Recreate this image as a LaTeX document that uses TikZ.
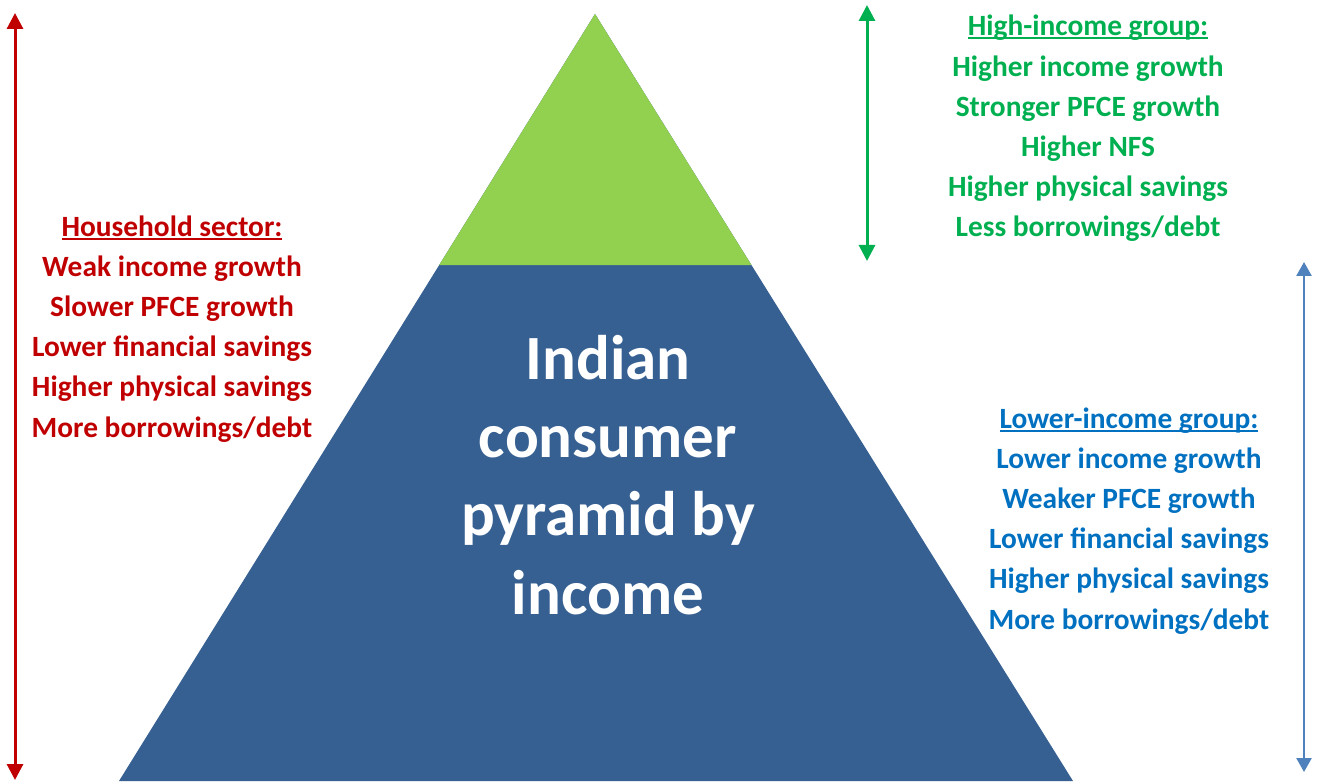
\documentclass[tikz,border=0pt]{standalone}
\usepackage{fontspec}
\setmainfont{Carlito}
\usepackage{xcolor}
\usepackage{tikz}
\usetikzlibrary{arrows.meta,calc,positioning}

\definecolor{pyrblue}{HTML}{376092}
\definecolor{pyrgreen}{HTML}{92D050}
\definecolor{hhred}{HTML}{C00000}
\definecolor{higreen}{HTML}{00B050}
\definecolor{loblue}{HTML}{0070C0}
\definecolor{loarrow}{HTML}{4F81BD}

% heading with an underline at a fixed depth (runs through descenders)
\newcommand{\ulhead}[1]{\leavevmode\setbox0\hbox{#1}\rlap{\rule[-3.5pt]{\wd0}{2pt}}\box0}

\begin{document}
\begin{tikzpicture}[
    x=1pt, y=-1pt,
    txt/.style={align=center, anchor=base, font=\fontsize{29.4}{40.2}\selectfont\bfseries},
    span/.style={{Triangle[width=16pt,length=16pt]}-{Triangle[width=16pt,length=16pt]}, line width=3pt}
]
    \useasboundingbox (0,0) rectangle (1319,783);

    % pyramid
    \coordinate (apex) at (595,14);
    \coordinate (baseL) at (119,781);
    \coordinate (baseR) at (1073,781);
    \coordinate (topL) at ($(apex)!0.3273!(baseL)$);
    \coordinate (topR) at ($(apex)!0.3273!(baseR)$);
    \fill[pyrblue] (baseL) -- (apex) -- (baseR) -- cycle;
    \fill[pyrgreen] (topL) -- (apex) -- (topR) -- cycle;

    % base anchor sits on the last line
    \node[font=\fontsize{63}{78.3}\selectfont\bfseries, text=white, align=center, anchor=base] (title) at (608,614)
        {Indian\\consumer\\pyramid by\\income};

    % text blocks
    \node[txt, text=hhred] (household) at (172,437)
        {\ulhead{Household sector:}\\Weak income growth\\Slower PFCE growth\\Lower financial savings\\Higher physical savings\\More borrowings/debt};
    \node[txt, text=higreen] (high) at (1088,237)
        {\ulhead{High-income group:}\\Higher income growth\\Stronger PFCE growth\\Higher NFS\\Higher physical savings\\Less borrowings/debt};
    \node[txt, text=loblue] (low) at (1129,629)
        {\ulhead{Lower-income group:}\\Lower income growth\\Weaker PFCE growth\\Lower financial savings\\Higher physical savings\\More borrowings/debt};

    % range arrows
    \coordinate (hhTop) at (15,13);
    \coordinate (hhBot) at (15,780);
    \coordinate (hiTop) at (867,5);
    \coordinate (hiBot) at (867,261);
    \coordinate (loTop) at (1304,262);
    \coordinate (loBot) at (1304,772);

    \draw[span, hhred] (hhTop) -- (hhBot);
    \draw[span, higreen] (hiTop) -- (hiBot);
    \draw[{Triangle[width=15pt,length=14pt]}-{Triangle[width=15pt,length=14pt]}, line width=2.5pt, loarrow] (loTop) -- (loBot);
\end{tikzpicture}
\end{document}
